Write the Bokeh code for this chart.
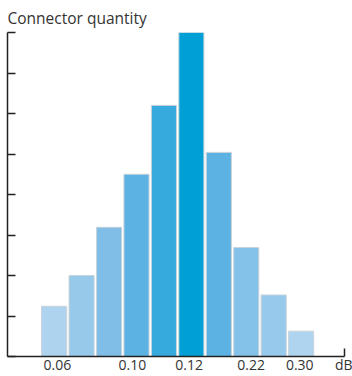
from bokeh.plotting import figure
from bokeh.models import ColumnDataSource, FixedTicker, Range1d
from bokeh.embed import file_html
from bokeh.resources import INLINE

# data
bins = [1, 2, 3, 4, 5, 6, 7, 8, 9, 10]
counts = [1.24, 2.0, 3.19, 4.5, 6.2, 8.0, 5.04, 2.69, 1.52, 0.625]
colors = ["#add3ee", "#97c9eb", "#80bee7", "#5cb2e3", "#36a9dd",
          "#00a0d6", "#5cb3e3", "#85c2ea", "#97c9ec", "#afd4f0"]
label_pos = [1.12, 3.85, 5.92, 8.18, 9.95, 11.58]
label_txt = ["0.06", "0.10", "0.12", "0.22", "0.30", "dB"]
y_ticks = [0, 1, 2, 3, 4, 5, 6, 7, 8]

src = ColumnDataSource(dict(x=bins, top=counts, color=colors))

p = figure(width=352, height=376, output_backend="svg", toolbar_location=None,
           x_range=Range1d(-0.7, 11.58), y_range=Range1d(0, 8),
           title="Connector quantity", min_border_left=7, min_border_right=8,
           min_border_top=0, min_border_bottom=0)

p.vbar(x="x", top="top", bottom=0, width=0.914, fill_color="color",
       line_color="#c9d3da", line_width=1, source=src)

p.title.text_font = "Open Sans"
p.title.text_font_size = "15.5px"
p.title.text_font_style = "normal"
p.title.text_color = "#333333"
p.title.offset = 0
p.title.standoff = 8

p.grid.visible = False
p.outline_line_color = None
p.background_fill_color = "white"
p.border_fill_color = "white"

ya = p.yaxis[0]
ya.ticker = FixedTicker(ticks=y_ticks)
ya.major_label_text_font_size = "0px"
ya.major_label_standoff = 0
ya.axis_label_standoff = 0
ya.major_label_overrides = {t: "" for t in y_ticks}
ya.major_tick_in = 8
ya.major_tick_out = 0
ya.minor_tick_in = 0
ya.minor_tick_out = 0
ya.axis_line_color = "#222222"
ya.axis_line_width = 1.5
ya.major_tick_line_color = "#222222"
ya.major_tick_line_width = 1.5

xa = p.xaxis[0]
xa.ticker = FixedTicker(ticks=label_pos, minor_ticks=[label_pos[-1]])
xa.major_label_overrides = {pos: t for pos, t in zip(label_pos, label_txt)}
xa.major_tick_in = 0
xa.major_tick_out = 0
xa.minor_tick_in = 8
xa.minor_tick_out = 0
xa.minor_tick_line_color = "#222222"
xa.minor_tick_line_width = 1.5
xa.axis_line_color = "#222222"
xa.axis_line_width = 1.5
xa.axis_label_standoff = 0
xa.major_label_text_font = "Open Sans"
xa.major_label_text_font_size = "14px"
xa.major_label_text_color = "#333333"
xa.major_label_standoff = -2

open("out.html", "w").write(file_html(p, INLINE))
